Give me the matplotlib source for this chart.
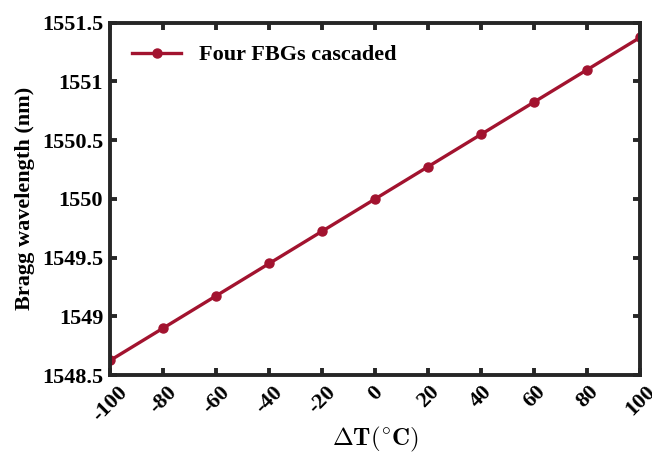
import matplotlib
matplotlib.use("Agg")
import matplotlib.pyplot as plt

delta_t = [-100, -80, -60, -40, -20, 0, 20, 40, 60, 80, 100]
bragg_nm = [1548.625, 1548.90, 1549.175, 1549.45, 1549.725, 1550.0,
            1550.275, 1550.55, 1550.825, 1551.10, 1551.375]
series_label = "Four FBGs cascaded"
y_ticks = [1548.5, 1549, 1549.5, 1550, 1550.5, 1551, 1551.5]
y_ticklabels = ["1548.5", "1549", "1549.5", "1550", "1550.5", "1551", "1551.5"]

plt.rcParams["font.family"] = ["Liberation Serif", "DejaVu Serif"]
plt.rcParams["font.weight"] = "bold"
plt.rcParams["mathtext.fontset"] = "cm"

fig = plt.figure(figsize=(6.52, 4.53), dpi=100)
ax = fig.add_axes([0.169, 0.172, 0.813, 0.778])

color = "#A2132F"
ax.plot(delta_t, bragg_nm, "-o", color=color, lw=2.4, ms=6.5, label=series_label)

ax.set_xlim(-100, 100)
ax.set_ylim(1548.5, 1551.5)
ax.set_xticks(delta_t)
ax.set_xticklabels([str(v) for v in delta_t], rotation=45, ha="center",
                   fontsize=16, fontweight="bold")
ax.set_yticks(y_ticks)
ax.set_yticklabels(y_ticklabels, fontsize=16, fontweight="bold")

for s in ax.spines.values():
    s.set_linewidth(2.8)
    s.set_color("#262626")
ax.tick_params(direction="in", length=5, width=2.8, color="#262626",
               top=True, right=True, pad=5)

ax.set_ylabel("Bragg wavelength (nm)", fontsize=16, fontweight="bold", labelpad=5)
ax.set_xlabel(r"$\mathbf{\Delta T(^{\circ}C)}$", fontsize=18, labelpad=0)

leg = ax.legend(loc="upper left", frameon=False,
                prop={"weight": "bold", "size": 16},
                handlelength=2.2, borderaxespad=0.6)

fig.savefig("out.png", dpi=100)
